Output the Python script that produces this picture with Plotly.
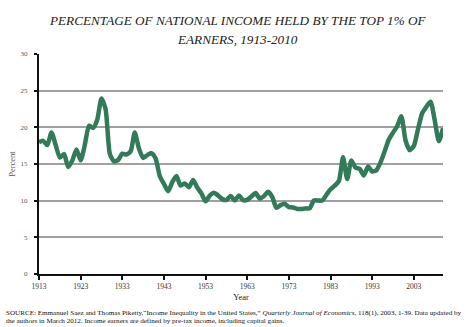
import plotly.graph_objects as go

years = list(range(1913, 2011))
top1_share = [
    17.96, 18.16, 17.58, 19.30, 17.60, 15.88, 16.37, 14.60, 15.47, 16.98,
    15.51, 17.59, 20.21, 19.93, 21.07, 23.94, 22.42, 16.42, 15.34, 15.56,
    16.41, 16.28, 16.73, 19.29, 17.10, 15.83, 16.21, 16.49, 15.76, 13.37,
    12.28, 11.30, 12.52, 13.35, 12.05, 12.35, 11.84, 12.82, 11.79, 10.99,
    9.91, 10.69, 11.08, 10.71, 10.21, 10.09, 10.65, 10.03, 10.69, 10.07,
    10.12, 10.57, 11.05, 10.29, 10.61, 11.20, 10.50, 9.03, 9.39, 9.57,
    9.12, 9.07, 8.87, 8.87, 8.95, 8.95, 10.02, 10.02, 10.02, 10.80,
    11.56, 12.04, 12.67, 15.92, 12.94, 15.47, 14.50, 14.33, 13.44, 14.67,
    13.98, 14.16, 15.23, 16.75, 18.33, 19.28, 20.15, 21.52, 18.23, 16.89,
    17.47, 19.76, 21.92, 22.79, 23.50, 21.00, 18.12, 19.86,
]
x_ticks = [1913, 1923, 1933, 1943, 1953, 1963, 1973, 1983, 1993, 2003]
y_ticks = [0, 5, 10, 15, 20, 25, 30]

title_line1 = "PERCENTAGE OF NATIONAL INCOME HELD BY THE TOP 1% OF"
title_line2 = "EARNERS, 1913-2010"
source_line1 = ("SOURCE: Emmanuel Saez and Thomas Piketty,\u201cIncome Inequality in the United States,\u201d "
                "<i>Quarterly Journal of Economics</i>, 118(1), 2003, 1-39. Data updated by")
source_line2 = ("the authors in March 2012. Income earners are defined by pre-tax income, "
                "including capital gains.")

serif = "Liberation Serif, Times New Roman, serif"
PLOT_H = 220.0
PLOT_W = 404.0
TOP = 54.0
LEFT = 39.0

def py(px):
    # pixel row from top of page -> paper y
    return 1 + (TOP - px) / PLOT_H

fig = go.Figure()
fig.add_trace(go.Scatter(
    x=years, y=top1_share, mode="lines",
    line=dict(color="#337a59", width=4.5, shape="spline", smoothing=0.6),
    hoverinfo="skip", showlegend=False,
))

fig.update_layout(
    width=475, height=327,
    margin=dict(l=39, r=32, t=54, b=53),
    paper_bgcolor="white", plot_bgcolor="white",
    font=dict(family=serif, color="#333"),
    xaxis=dict(
        range=[1913, 2010], tickvals=x_ticks, ticktext=[str(v) for v in x_ticks],
        showgrid=False, zeroline=False,
        showline=True, linecolor="#111", linewidth=2,
        ticks="outside", ticklen=4, tickwidth=2, tickcolor="#111",
        tickfont=dict(size=7.5, color="#333"),
        title=dict(text="Year", font=dict(size=8.5, color="#222"), standoff=4),
    ),
    yaxis=dict(
        range=[0, 30], tickvals=y_ticks, ticktext=[str(v) for v in y_ticks],
        showgrid=True, gridcolor="#a0a0a0", gridwidth=1.5,
        zeroline=False,
        showline=True, linecolor="#111", linewidth=2,
        ticks="outside", ticklen=3, tickwidth=1.5, tickcolor="#111",
        ticklabelstandoff=5,
        tickfont=dict(size=7, color="#555"),
        title=dict(text="Percent", font=dict(size=8.5, color="#555"), standoff=4),
    ),
)

for txt, row in [(title_line1, 20), (title_line2, 40)]:
    fig.add_annotation(
        text=f"<i>{txt}</i>", xref="paper", yref="paper",
        x=(237.5 - LEFT) / PLOT_W, y=py(row),
        xanchor="center", yanchor="middle", showarrow=False,
        font=dict(family=serif, size=13.2, color="#222"),
    )

for txt, row in [(source_line1, 313), (source_line2, 321)]:
    fig.add_annotation(
        text=txt, xref="paper", yref="paper", x=(4 - LEFT) / PLOT_W, y=py(row),
        xanchor="left", yanchor="middle", showarrow=False,
        font=dict(family=serif, size=7.1, color="#111"),
    )

fig.write_html("out.html")
